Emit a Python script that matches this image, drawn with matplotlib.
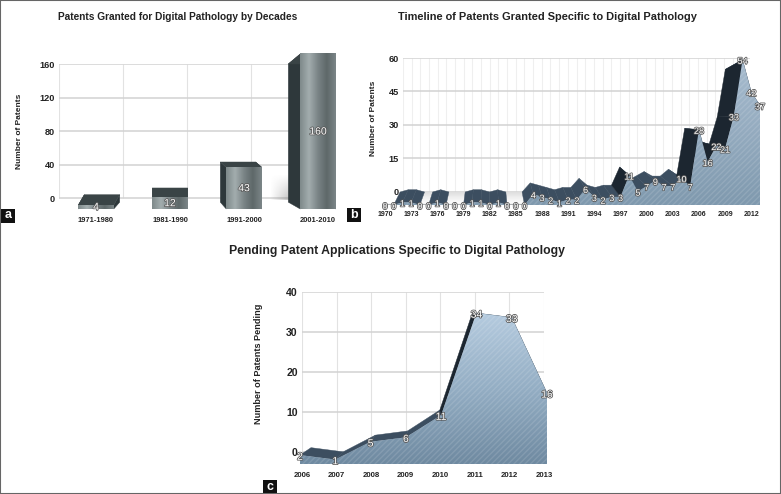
"""Three pseudo-3D patent charts for digital pathology."""
import numpy as np
import matplotlib
matplotlib.use("Agg")
import matplotlib.pyplot as plt
from matplotlib.colors import LinearSegmentedColormap
from matplotlib.patches import Polygon, Rectangle
import matplotlib.patheffects as pe

W, H = 781, 494

decades = ["1971-1980", "1981-1990", "1991-2000", "2001-2010"]
decade_counts = [4, 12, 43, 160]

granted_years = list(range(1970, 2014))
granted_counts = [0, 0, 1, 1, 0, 0, 1, 0, 0, 0, 1, 1, 0, 1, 0, 0, 0, 4, 3, 2, 1, 2,
                  2, 6, 3, 2, 3, 3, 11, 5, 7, 9, 7, 7, 10, 7, 28, 16, 22, 21, 33, 54, 42, 37]

pending_years = list(range(2006, 2014))
pending_counts = [2, 1, 5, 6, 11, 34, 33, 16]

plt.rcParams["font.family"] = ["Liberation Sans", "DejaVu Sans"]
fig = plt.figure(figsize=(W / 100, H / 100), dpi=100)


def px_axes(x0, x1, y0, y1, xlim, ylim, zorder=1):
    # axes placed by pixel box, y0 is the top edge in image coordinates
    ax = fig.add_axes([x0 / W, 1 - y1 / H, (x1 - x0) / W, (y1 - y0) / H], zorder=zorder)
    ax.set_xlim(*xlim)
    ax.set_ylim(*ylim)
    ax.patch.set_visible(False)
    for s in ax.spines.values():
        s.set_visible(False)
    ax.tick_params(length=0)
    ax.set_xticks([])
    ax.set_yticks([])
    return ax


def wall_style(ax, yticks, xgrid, ylabel, label_x, label_y, label_size, vcolor="#e2e2e2", tick_size=6.6):
    ax.set_yticks(yticks)
    ax.set_yticklabels([str(t) for t in yticks], fontsize=tick_size, fontweight="bold", color="#222222")
    ax.tick_params(axis="y", pad=3)
    ax.hlines(yticks, *ax.get_xlim(), color="#d2d2d2", lw=1.1, zorder=1)
    ax.vlines(xgrid, yticks[0], yticks[-1], color=vcolor, lw=0.8, zorder=0)
    ax.text(label_x, label_y, ylabel, rotation=90, fontsize=label_size, fontweight="bold",
            color="#222222", ha="center", va="center", transform=ax.get_yaxis_transform())


def value_label(ax, x, y, text, size=7.5, dy=0):
    ax.annotate(text, (x, y), xytext=(0, dy), textcoords="offset points", fontsize=size, color="white",
                ha="center", va="center", zorder=20, annotation_clip=False,
                path_effects=[pe.withStroke(linewidth=1.1, foreground="#555555")])


def to_axes(src, dst, pts):
    return dst.transData.inverted().transform(src.transData.transform(pts))


def area_chart(back, front, values, steep, stops, size):
    xlim, ylim = front.get_xlim(), front.get_ylim()
    x = np.arange(len(values))
    v = np.array(values, dtype=float)
    # top surface between the back and the front profile
    fpts = to_axes(back, front, np.column_stack([x, v]))
    for i in range(len(v) - 1):
        if v[i] == 0 and v[i + 1] == 0:
            continue
        rise = v[i + 1] - v[i]
        col = "#1c2630" if rise >= steep else "#3c4e60"
        z = 3 if rise >= steep else 2
        front.add_patch(Polygon([[i, v[i]], [i + 1, v[i + 1]], fpts[i + 1], fpts[i]], closed=True,
                                fc=col, ec=col, lw=0.3, zorder=z, clip_on=False))
    outline = [[0, 0]] + [[i, vv] for i, vv in zip(x, v)] + [[x[-1], 0]]
    poly = Polygon(outline, closed=True, fc="none", ec="none", transform=front.transData)
    front.add_patch(poly)
    cmap = LinearSegmentedColormap.from_list("area", stops)
    im = front.imshow(np.linspace(0, 1, 64)[:, None], extent=[0, x[-1], 0, v.max()], origin="upper",
                      aspect="auto", cmap=cmap, zorder=5, interpolation="bilinear")
    im.set_clip_path(poly)
    # faint diagonal stripes over the fill
    front.add_patch(Polygon(outline, closed=True, fc="none", ec="#ffffff", alpha=0.12, hatch="//////",
                            lw=0, zorder=6))
    front.axhline(0, color="#8a8f92", lw=1.6, zorder=4, alpha=0.7)
    front.set_xlim(*xlim)
    front.set_ylim(*ylim)
    for xi, vi in zip(x, v):
        value_label(front, xi, vi, f"{int(vi)}", size, dy=-1.2)


# === a: bars ===
wall_a = px_axes(59, 315, 64, 210, (0, 4), (-14.3, 160))
wall_style(wall_a, [0, 40, 80, 120, 160], [0, 1, 2, 3, 4], "Number of Patents", -0.155, 80, 6)
back_a = px_axes(68, 340, 54, 210, (-0.5, 3.5), (-14.3, 171.9), zorder=2)
front_a = px_axes(59, 355, 54, 209, (-0.5, 3.5), (0, 160), zorder=3)
front_a.set_xticks(range(4))
front_a.set_xticklabels(decades, fontsize=5.4, fontweight="bold", color="#222222")
front_a.tick_params(axis="x", pad=6)

# soft shadow the last bar throws on the wall
ramp = np.outer(np.linspace(0, 1, 32), np.linspace(0, 1, 32))
shadow = np.zeros((32, 32, 4))
shadow[..., :3] = 0.45
shadow[..., 3] = 0.45 * ramp
wall_a.imshow(shadow, extent=[3.3, 3.6, -2, 28], aspect="auto", origin="upper", zorder=2,
              interpolation="bilinear")
wall_a.set_xlim(0, 4)
wall_a.set_ylim(-14.3, 160)

metal = LinearSegmentedColormap.from_list("metal", ["#7f8a8b", "#a3adae", "#7a8486", "#5e6869", "#7b8587"])
BACK_W, FRONT_W = 0.26, 0.24
for i, v in enumerate(decade_counts):
    corners = to_axes(back_a, front_a, np.array([[i - BACK_W, v], [i + BACK_W, v],
                                                 [i - BACK_W, -5], [i + BACK_W, -5]]))
    fl, fr = i - FRONT_W, i + FRONT_W
    front_a.add_patch(Polygon([corners[0], corners[1], [fr, v], [fl, v]], fc="#3a4446", ec="#3a4446",
                              lw=0.3, zorder=3, clip_on=False))
    front_a.add_patch(Polygon([corners[0], [fl, v], [fl, 0], corners[2]], fc="#2e383b", ec="#2e383b",
                              lw=0.3, zorder=2, clip_on=False))
    front_a.add_patch(Polygon([corners[1], [fr, v], [fr, 0], corners[3]], fc="#2e383b", ec="#2e383b",
                              lw=0.3, zorder=2, clip_on=False))
    front_a.bar(i, v, width=2 * FRONT_W, color="none")
    im = front_a.imshow(np.linspace(0, 1, 64)[None, :], extent=[fl, fr, 0, v], aspect="auto", cmap=metal,
                        zorder=5, interpolation="bilinear")
    im.set_clip_on(False)
    value_label(front_a, i, v / 2, str(v), 7.5)
front_a.set_xlim(-0.5, 3.5)
front_a.set_ylim(0, 160)

# === b: timeline ===
last_b = len(granted_counts) - 1
wall_b = px_axes(403, 750, 58, 205, (0, 40), (-5.83, 60))
wall_style(wall_b, [0, 15, 30, 45, 60], list(range(0, 41)), "Number of Patents", -0.086, 33, 6,
           vcolor="#efefef")
# floor shadow in front of the back wall
wall_b.imshow(np.linspace(0.22, 0, 16)[:, None], extent=[-1, 18, -5.8, 0], aspect="auto", cmap="Greys",
              vmin=0, vmax=1, zorder=1, interpolation="bilinear")
wall_b.set_xlim(0, 40)
wall_b.set_ylim(-5.83, 60)
back_b = px_axes(392, 741.6, 58, 205, (0, last_b), (-5.73, 59.0), zorder=2)
front_b = px_axes(385, 760, 60, 205, (0, last_b), (0, 53.9), zorder=3)
front_b.set_xticks(np.arange(0, 43, 3))
front_b.set_xticklabels([str(granted_years[i]) for i in range(0, 43, 3)], fontsize=5.0,
                        fontweight="bold", color="#222222")
front_b.tick_params(axis="x", pad=4)
area_chart(back_b, front_b, granted_counts, 5, ["#a6bbce", "#94abbf", "#7f99ae"], 6.6)

# === c: pending ===
last_c = len(pending_counts) - 1
wall_c = px_axes(302, 544, 292, 464, (0, last_c), (-3, 40))
wall_style(wall_c, [0, 10, 20, 30, 40], list(range(last_c + 1)), "Number of Patents Pending", -0.178, 22,
           6.6, tick_size=7.6)
wall_c.set_xticks(range(last_c + 1))
wall_c.set_xticklabels([str(y) for y in pending_years], fontsize=5.6, fontweight="bold", color="#222222")
wall_c.tick_params(axis="x", pad=6)
back_c = px_axes(311, 536.4, 296, 468, (0, last_c), (-2.87, 38.3), zorder=2)
front_c = px_axes(300, 547, 313, 464, (0, last_c), (0, 34), zorder=3)
area_chart(back_c, front_c, pending_counts, 12, ["#b5cbdf", "#94aec4", "#6f8aa1"], 7.5)

# === titles, panel tags, frame ===
fig.text(178 / W, 1 - 17 / H, "Patents Granted for Digital Pathology by Decades", fontsize=7.3,
         fontweight="bold", color="#222222", ha="center", va="center")
fig.text(547 / W, 1 - 17 / H, "Timeline of Patents Granted Specific to Digital Pathology", fontsize=7.9,
         fontweight="bold", color="#222222", ha="center", va="center")
fig.text(397 / W, 1 - 251 / H, "Pending Patent Applications Specific to Digital Pathology", fontsize=8.8,
         fontweight="bold", color="#222222", ha="center", va="center")

for tag, x0, y0 in [("a", 1, 209), ("b", 347, 208), ("c", 263, 480)]:
    fig.add_artist(Rectangle((x0 / W, 1 - (y0 + 14) / H), 14 / W, 14 / H, fc="#111111", ec="none",
                             transform=fig.transFigure))
    fig.text((x0 + 7) / W, 1 - (y0 + 6.5) / H, tag, fontsize=9, fontweight="bold", color="white",
             ha="center", va="center")

frame = Rectangle((0, 0), 1, 1, fc="none", ec="#666666", lw=1.5, transform=fig.transFigure)
fig.add_artist(frame)

plt.savefig("out.png", dpi=100)
plt.close()
